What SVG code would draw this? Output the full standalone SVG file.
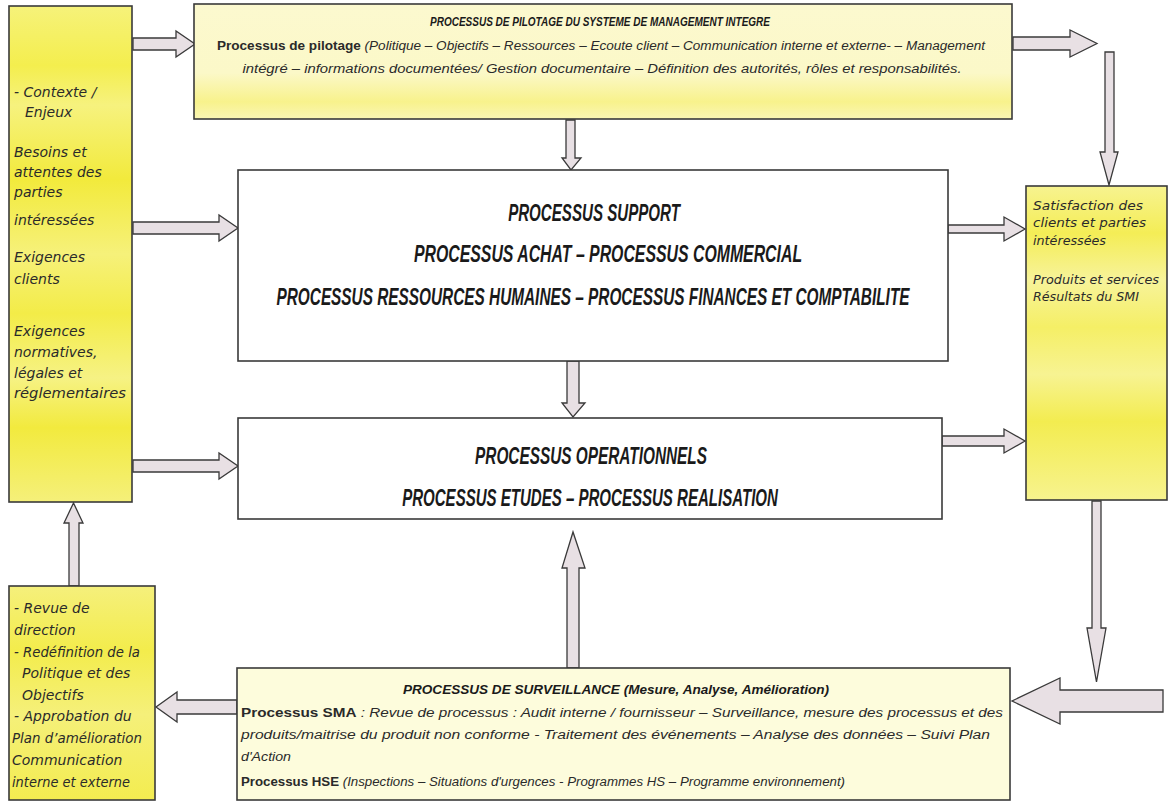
<svg xmlns="http://www.w3.org/2000/svg" width="1168" height="804" viewBox="0 0 1168 804">
<style>
.box{stroke:#3a3a3a;stroke-width:1.6}
.arr{fill:#e8e0e4;stroke:#3a3a3a;stroke-width:1.3;stroke-linejoin:miter}
.it{font-family:"DejaVu Sans","Liberation Sans",sans-serif;font-style:italic;font-size:14px;fill:#2a2a2a}
.rt{font-family:"DejaVu Sans","Liberation Sans",sans-serif;font-style:italic;font-size:12px;fill:#2a2a2a}
.sm{font-family:"Liberation Sans",Arial,sans-serif;font-style:italic;font-size:12px;fill:#2a2a2a}
.b{font-weight:bold;font-style:normal;font-family:"Liberation Sans Narrow","Liberation Sans",Arial,sans-serif}
.tt{font-family:"Liberation Sans Narrow","Liberation Sans",Arial,sans-serif;font-weight:bold;font-style:italic;fill:#1a1a1a}
.hd{font-family:"Liberation Sans",Arial,sans-serif;font-style:italic;font-weight:bold;font-size:24px;fill:#1a1a1a}
</style>
<defs>
<linearGradient id="gY" x1="0" y1="0" x2="0" y2="1">
<stop offset="0" stop-color="#f6f27a"/>
<stop offset="0.12" stop-color="#f4ee4e"/>
<stop offset="0.2" stop-color="#f6f27e"/>
<stop offset="0.35" stop-color="#f2ea3c"/>
<stop offset="0.5" stop-color="#f6f17a"/>
<stop offset="0.62" stop-color="#f3ec48"/>
<stop offset="0.75" stop-color="#f6f284"/>
<stop offset="0.85" stop-color="#f2ea3e"/>
<stop offset="1" stop-color="#f5f07a"/>
</linearGradient>
<linearGradient id="gR" x1="0" y1="0" x2="0" y2="1">
<stop offset="0" stop-color="#f7f390"/>
<stop offset="0.15" stop-color="#f4ed56"/>
<stop offset="0.3" stop-color="#f7f39a"/>
<stop offset="0.45" stop-color="#f5ef66"/>
<stop offset="0.6" stop-color="#f7f392"/>
<stop offset="0.75" stop-color="#f3ec50"/>
<stop offset="1" stop-color="#f7f38e"/>
</linearGradient>
<linearGradient id="gT" x1="0" y1="0" x2="0" y2="1">
<stop offset="0" stop-color="#fcf9cf"/>
<stop offset="0.6" stop-color="#fbf8c8"/>
<stop offset="0.85" stop-color="#f8f28c"/>
<stop offset="1" stop-color="#faf6b4"/>
</linearGradient>
<linearGradient id="gBL" x1="0" y1="0" x2="0" y2="1">
<stop offset="0" stop-color="#f5f07c"/>
<stop offset="0.3" stop-color="#f3ec4c"/>
<stop offset="0.6" stop-color="#f5f07a"/>
<stop offset="1" stop-color="#f3ec50"/>
</linearGradient>
</defs>
<rect width="1168" height="804" fill="#ffffff"/>

<g id="connectors">
<polygon class="arr" points="133,38 176,38 176,31 195,44 176,57 176,50 133,50"/>
<polygon class="arr" points="133,222 219,222 219,215 238,228 219,241 219,234 133,234"/>
<polygon class="arr" points="133,460 219,460 219,453 238,466 219,479 219,472 133,472"/>
<polygon class="arr" points="1013,37 1070,37 1070,30 1097,43.5 1070,57 1070,50 1013,50"/>
<polygon class="arr" points="1105,52 1114,52 1114,152 1118,152 1109,185 1100,152 1105,152"/>
<polygon class="arr" points="566,120 575,120 575,158 581,158 571,170 562,158 566,158"/>
<polygon class="arr" points="567,361 579,361 579,403 585,403 573,417 562,403 567,403"/>
<polygon class="arr" points="567,668 579,668 579,568 585,568 573,532 562,568 567,568"/>
<polygon class="arr" points="948,225 1004,225 1004,217 1025,229 1004,241 1004,233 948,233"/>
<polygon class="arr" points="942,436 1004,436 1004,429 1025,441 1004,453 1004,446 942,446"/>
<polygon class="arr" points="1092,501 1101,501 1101,628 1106,628 1096.5,682 1087,628 1092,628"/>
<polygon class="arr" points="1163,690 1060,690 1060,678 1012,701 1060,724 1060,712 1163,712"/>
<polygon class="arr" points="237,700 177,700 177,692 156,707 177,722 177,714 237,714"/>
<polygon class="arr" points="69,586 79,586 79,523 83,523 73.5,503 64,523 69,523"/>
</g>

<g id="entrees">
<rect class="box" x="9" y="6" width="123" height="496" fill="url(#gY)"/>
<text class="it" x="14" y="97">- Contexte /</text>
<text class="it" x="25" y="117">Enjeux</text>
<text class="it" x="14" y="157">Besoins et</text>
<text class="it" x="14" y="177">attentes des</text>
<text class="it" x="14" y="197">parties</text>
<text class="it" x="14" y="225">intéressées</text>
<text class="it" x="14" y="262">Exigences</text>
<text class="it" x="14" y="284">clients</text>
<text class="it" x="14" y="336">Exigences</text>
<text class="it" x="14" y="357">normatives,</text>
<text class="it" x="14" y="378">légales et</text>
<text class="it" x="14" y="398" textLength="112" lengthAdjust="spacingAndGlyphs">réglementaires</text>
</g>

<g id="pilotage">
<rect class="box" x="194" y="4" width="818" height="115" fill="url(#gT)"/>
<text class="tt" x="600" y="26" text-anchor="middle" font-size="13" textLength="340" lengthAdjust="spacingAndGlyphs">PROCESSUS DE PILOTAGE DU SYSTEME DE MANAGEMENT INTEGRE</text>
<text class="sm" x="601" y="50" text-anchor="middle" textLength="768" lengthAdjust="spacingAndGlyphs"><tspan class="b">Processus de pilotage</tspan> (Politique – Objectifs – Ressources – Ecoute client – Communication interne et externe- – Management</text>
<text class="sm" x="602" y="73" text-anchor="middle" textLength="719" lengthAdjust="spacingAndGlyphs">intégré – informations documentées/ Gestion documentaire – Définition des autorités, rôles et  responsabilités.</text>
</g>

<g id="support">
<rect class="box" x="238" y="170" width="710" height="191" fill="#ffffff"/>
<text class="hd" transform="translate(594,221) scale(0.62,1)" text-anchor="middle" textLength="277" lengthAdjust="spacingAndGlyphs">PROCESSUS SUPPORT</text>
<text class="hd" transform="translate(608,262) scale(0.62,1)" text-anchor="middle" textLength="626" lengthAdjust="spacingAndGlyphs">PROCESSUS ACHAT – PROCESSUS COMMERCIAL</text>
<text class="hd" transform="translate(593,305) scale(0.62,1)" text-anchor="middle" textLength="1021" lengthAdjust="spacingAndGlyphs">PROCESSUS RESSOURCES HUMAINES – PROCESSUS FINANCES ET COMPTABILITE</text>
</g>

<g id="operationnels">
<rect class="box" x="238" y="418" width="704" height="101" fill="#ffffff"/>
<text class="hd" transform="translate(591,464) scale(0.62,1)" text-anchor="middle" textLength="374" lengthAdjust="spacingAndGlyphs">PROCESSUS OPERATIONNELS</text>
<text class="hd" transform="translate(590,506) scale(0.62,1)" text-anchor="middle" textLength="606" lengthAdjust="spacingAndGlyphs">PROCESSUS ETUDES – PROCESSUS REALISATION</text>
</g>

<g id="sorties">
<rect class="box" x="1026" y="186" width="141" height="314" fill="url(#gR)"/>
<text class="rt" x="1033" y="210" textLength="110" lengthAdjust="spacingAndGlyphs">Satisfaction des</text>
<text class="rt" x="1033" y="227" textLength="113" lengthAdjust="spacingAndGlyphs">clients et parties</text>
<text class="rt" x="1033" y="245" textLength="73" lengthAdjust="spacingAndGlyphs">intéressées</text>
<text class="rt" x="1033" y="284" textLength="126" lengthAdjust="spacingAndGlyphs">Produits et services</text>
<text class="rt" x="1033" y="301" textLength="106" lengthAdjust="spacingAndGlyphs">Résultats du SMI</text>
</g>

<g id="surveillance">
<rect class="box" x="237" y="668" width="773" height="132" fill="#fdfcdc"/>
<text class="tt" x="616" y="694" text-anchor="middle" font-size="13" textLength="426" lengthAdjust="spacingAndGlyphs">PROCESSUS DE SURVEILLANCE (Mesure, Analyse, Amélioration)</text>
<text class="sm" x="241" y="717" textLength="762" lengthAdjust="spacingAndGlyphs"><tspan class="b">Processus SMA</tspan> : Revue de processus : Audit interne / fournisseur – Surveillance, mesure des processus et des</text>
<text class="sm" x="241" y="739" textLength="749" lengthAdjust="spacingAndGlyphs">produits/maitrise du produit non conforme - Traitement des événements – Analyse des données – Suivi Plan</text>
<text class="sm" x="241" y="761" font-size="13" textLength="50" lengthAdjust="spacingAndGlyphs">d'Action</text>
<text class="sm" x="241" y="786" textLength="604" lengthAdjust="spacingAndGlyphs"><tspan class="b">Processus HSE</tspan> (Inspections – Situations d'urgences - Programmes HS – Programme environnement)</text>
</g>

<g id="revue">
<rect class="box" x="9" y="586" width="146" height="214" fill="url(#gBL)"/>
<text class="it" x="14" y="613">- Revue de</text>
<text class="it" x="14" y="635">direction</text>
<text class="it" x="14" y="657" textLength="126" lengthAdjust="spacingAndGlyphs">- Redéfinition  de la</text>
<text class="it" x="22" y="678">Politique et des</text>
<text class="it" x="22" y="700">Objectifs</text>
<text class="it" x="14" y="721">- Approbation du</text>
<text class="it" x="12" y="743" textLength="130" lengthAdjust="spacingAndGlyphs">Plan d’amélioration</text>
<text class="it" x="12" y="765">Communication</text>
<text class="it" x="12" y="787" textLength="118" lengthAdjust="spacingAndGlyphs">interne et externe</text>
</g>
</svg>
